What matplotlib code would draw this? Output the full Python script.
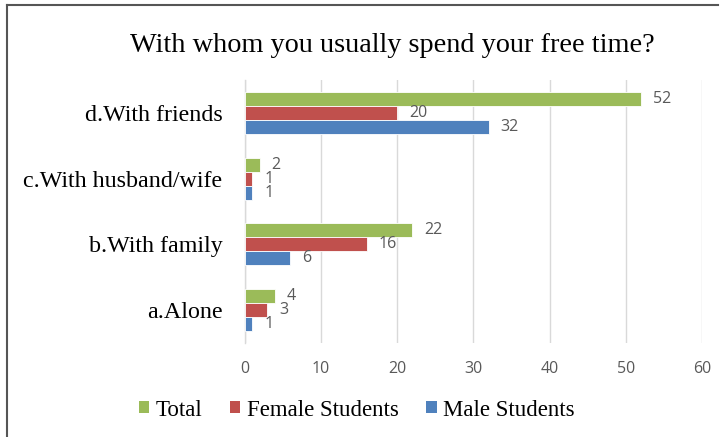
import matplotlib.pyplot as plt
import numpy as np
from matplotlib.lines import Line2D
from matplotlib.patches import Patch

categories = ["a.Alone", "b.With family", "c.With husband/wife", "d.With friends"]
series_names = ["Total", "Female Students", "Male Students"]
total = [4, 22, 2, 52]
female = [3, 16, 1, 20]
male = [1, 6, 1, 32]
xticks = [0, 10, 20, 30, 40, 50, 60]

colors = ["#9BBB59", "#C0504D", "#4F81BD"]
serif = ["Liberation Serif", "DejaVu Serif"]
sans = ["Open Sans", "DejaVu Sans"]

fig = plt.figure(figsize=(7.24, 4.37), dpi=100)
ax = fig.add_axes([244.5 / 724, 1 - 343 / 437, (702 - 244.5) / 724, (343 - 80) / 437])

y = np.arange(len(categories))
h = 0.213
values = [total, female, male]
offsets = [h, 0, -h]
for vals, off, col in zip(values, offsets, colors):
    bars = ax.barh(y + off, vals, height=h, color=col, edgecolor="white", linewidth=0.6, zorder=3)
    for b, v in zip(bars, vals):
        ax.annotate(str(v), (b.get_width(), b.get_y() + b.get_height() / 2),
                    xytext=(12, 0), textcoords="offset pixels",
                    ha="left", va="center", fontsize=11.5, color="#595959", family=sans)

ax.set_xlim(0, 60)
ax.set_ylim(-0.5, 3.5)
ax.set_xticks(xticks)
ax.set_xticklabels([str(t) for t in xticks], fontsize=11.5, color="#595959", family=sans)
ax.set_yticks(y)
ax.set_yticklabels(categories, fontsize=17.3, family=serif, color="black")
ax.tick_params(axis="both", length=0)
ax.tick_params(axis="y", pad=16)
ax.tick_params(axis="x", pad=13)
ax.grid(axis="x", color="#D9D9D9", linewidth=1, zorder=0)
for s in ["top", "right", "bottom"]:
    ax.spines[s].set_visible(False)
ax.spines["left"].set_color("#D9D9D9")
ax.spines["left"].set_linewidth(1)

fig.text(392.5 / 724, 1 - 45 / 437, "With whom you usually spend your free time?",
         ha="center", va="center", fontsize=20.3, family=serif)

handles = [Patch(facecolor=c, edgecolor="none") for c in colors]
fig.legend(handles, series_names, loc="center", bbox_to_anchor=(357 / 724, 1 - 410 / 437),
           ncol=3, frameon=False, prop={"family": serif, "size": 16.5},
           handlelength=0.44, handleheight=0.44, handletextpad=0.3, columnspacing=1.2)

# frame lines on the top and left edges
fig.add_artist(Line2D([7 / 724, 718 / 724], [1 - 5 / 437, 1 - 5 / 437], color="#555555", linewidth=1.5))
fig.add_artist(Line2D([7 / 724, 7 / 724], [0, 1 - 5 / 437], color="#555555", linewidth=1.5))

fig.savefig("out.png", dpi=100)
